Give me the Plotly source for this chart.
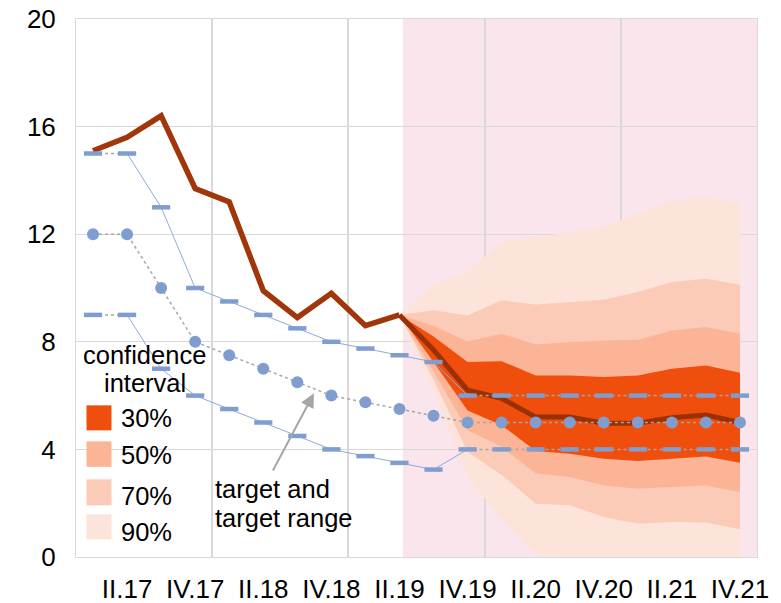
import plotly.graph_objects as go

# ---------------- data ----------------
quarters = ["I.17", "II.17", "III.17", "IV.17", "I.18", "II.18", "III.18", "IV.18",
            "I.19", "II.19", "III.19", "IV.19", "I.20", "II.20", "III.20", "IV.20",
            "I.21", "II.21", "III.21", "IV.21"]

actual = [15.1, 15.6, 16.4, 13.7, 13.2, 9.9, 8.9, 9.8, 8.6, 9.0]

fan_quarters = ["II.19", "III.19", "IV.19", "I.20", "II.20", "III.20", "IV.20",
                "I.21", "II.21", "III.21", "IV.21"]
central = [9.0, 7.7, 6.2, 5.9, 5.2, 5.2, 4.97, 4.97, 5.18, 5.28, 5.0]
upper90 = [9.0, 10.13, 10.59, 11.71, 11.89, 12.08, 12.3, 12.76, 13.25, 13.38, 13.13]
upper70 = [9.0, 9.17, 8.98, 9.54, 9.39, 9.48, 9.56, 9.85, 10.22, 10.34, 10.12]
upper50 = [9.0, 8.6, 8.01, 8.3, 7.9, 7.99, 8.05, 8.08, 8.42, 8.55, 8.3]
upper30 = [9.0, 8.2, 7.25, 7.28, 6.75, 6.75, 6.69, 6.75, 7.0, 7.12, 6.85]
lower30 = [9.0, 7.25, 5.45, 4.9, 3.94, 3.84, 3.65, 3.57, 3.65, 3.74, 3.5]
lower50 = [9.0, 6.9, 4.71, 4.1, 3.1, 2.97, 2.66, 2.54, 2.6, 2.66, 2.42]
lower70 = [9.0, 6.6, 3.9, 3.05, 1.98, 1.92, 1.49, 1.24, 1.3, 1.28, 1.03]
lower90 = [9.0, 6.2, 2.97, 1.4, 0.08, 0.0, 0.0, 0.0, 0.0, 0.0, 0.0]

target_mid = [12.0, 12.0, 10.0, 8.0, 7.5, 7.0, 6.5, 6.0, 5.75, 5.5, 5.25,
              5.0, 5.0, 5.0, 5.0, 5.0, 5.0, 5.0, 5.0, 5.0]
target_up = [15.0, 15.0, 13.0, 10.0, 9.5, 9.0, 8.5, 8.0, 7.75, 7.5, 7.25,
             6.0, 6.0, 6.0, 6.0, 6.0, 6.0, 6.0, 6.0, 6.0]
target_low = [9.0, 9.0, 7.0, 6.0, 5.5, 5.0, 4.5, 4.0, 3.75, 3.5, 3.25,
              4.0, 4.0, 4.0, 4.0, 4.0, 4.0, 4.0, 4.0, 4.0]

band_labels = ["90%", "70%", "50%", "30%"]
band_colors = ["#fde4da", "#fccbb7", "#fbb596", "#ef4e0c"]
bands = [(upper90, lower90), (upper70, lower70), (upper50, lower50), (upper30, lower30)]

tick_labels = ["II.17", "IV.17", "II.18", "IV.18", "II.19",
               "IV.19", "II.20", "IV.20", "II.21", "IV.21"]
y_ticks = [0, 4, 8, 12, 16, 20]

# ---------------- layout helpers ----------------
# the page body has an 8px margin, so the figure starts at (8, 8) in the window
OFF = 8
W, H = 781 - OFF, 603 - OFF
PLOT_L, PLOT_R, PLOT_T, PLOT_B = 75.5, 756.7, 18.5, 556.7   # window pixels
L = PLOT_L - OFF
T = PLOT_T - OFF
R = W - (PLOT_R - OFF)
B = H - (PLOT_B - OFF)
PW, PH = PLOT_R - PLOT_L, PLOT_B - PLOT_T


def fx(px):
    return (px - PLOT_L) / PW


def fy(py):
    return (PLOT_B - py) / PH


pos = {q: i for i, q in enumerate(quarters)}
x_all = [pos[q] for q in quarters]
x_act = x_all[:len(actual)]
x_fan = [pos[q] for q in fan_quarters]

FONT = "Liberation Sans, Arial, sans-serif"
RED = "#a0360a"
BLUE = "#7f9ecf"
THIN_BLUE = "#8eaadb"
GREY = "#a6a6a6"

fig = go.Figure()

# fan bands
for (up, lo), col in zip(bands, band_colors):
    fig.add_trace(go.Scatter(
        x=x_fan + x_fan[::-1], y=up + lo[::-1],
        fill="toself", fillcolor=col, mode="lines",
        line=dict(width=0, color=col), hoverinfo="skip", showlegend=False))

# actual and central projection
fig.add_trace(go.Scatter(x=x_act, y=actual, mode="lines",
                         line=dict(color=RED, width=5.5), showlegend=False))
fig.add_trace(go.Scatter(x=x_fan, y=central, mode="lines",
                         line=dict(color="#9a3104", width=5), showlegend=False))

# target range lines
for series in (target_up, target_low):
    fig.add_trace(go.Scatter(x=x_all[1:12], y=series[1:12], mode="lines",
                             line=dict(color=THIN_BLUE, width=1), showlegend=False))
    fig.add_trace(go.Scatter(x=x_all[0:2], y=series[0:2], mode="lines",
                             line=dict(color=GREY, width=1.5, dash="dot"), showlegend=False))
    fig.add_trace(go.Scatter(x=x_all[11:], y=series[11:], mode="lines",
                             line=dict(color=GREY, width=1.5, dash="dot"), showlegend=False))

# target line (dotted)
fig.add_trace(go.Scatter(x=x_all, y=target_mid, mode="lines",
                         line=dict(color=GREY, width=1.5, dash="dot"), showlegend=False))

# markers
for series in (target_up, target_low):
    fig.add_trace(go.Scatter(x=x_all, y=series, mode="markers",
                             marker=dict(symbol="line-ew", size=13,
                                         line=dict(color=BLUE, width=4.5)),
                             showlegend=False))
fig.add_trace(go.Scatter(x=x_all, y=target_mid, mode="markers",
                         marker=dict(symbol="circle", size=12, color=BLUE),
                         showlegend=False))

shapes = [
    dict(type="rect", xref="x", yref="paper", x0=9.1, x1=19.5, y0=0, y1=1,
         fillcolor="#fbe5ec", line=dict(width=0), layer="below"),
]

# legend squares
sq_rows = [(405, 430), (441, 466.5), (479, 505), (514, 539)]
for (y0, y1), col in zip(sq_rows, band_colors[::-1]):
    shapes.append(dict(type="rect", xref="paper", yref="paper",
                       x0=fx(86), x1=fx(111), y0=fy(y1), y1=fy(y0),
                       fillcolor=col, line=dict(width=0), layer="above"))

annotations = []
txt_font = dict(family=FONT, size=25.5, color="black")
annotations.append(dict(xref="paper", yref="paper", x=fx(144), y=fy(354.5),
                        text="confidence", showarrow=False, xanchor="center",
                        yanchor="middle", font=txt_font))
annotations.append(dict(xref="paper", yref="paper", x=fx(144.5), y=fy(383),
                        text="interval", showarrow=False, xanchor="center",
                        yanchor="middle", font=txt_font))
lab_y = [418, 454.5, 496, 532]
for yy, lab in zip(lab_y, band_labels[::-1]):
    annotations.append(dict(xref="paper", yref="paper", x=fx(119), y=fy(yy),
                            text=lab, showarrow=False, xanchor="left",
                            yanchor="middle", font=txt_font))
annotations.append(dict(xref="paper", yref="paper", x=fx(212.5), y=fy(489),
                        text="target and", showarrow=False, xanchor="left",
                        yanchor="middle", font=txt_font))
annotations.append(dict(xref="paper", yref="paper", x=fx(212.5), y=fy(518),
                        text="target range", showarrow=False, xanchor="left",
                        yanchor="middle", font=txt_font))
# arrow
annotations.append(dict(xref="paper", yref="paper", x=fx(313.5), y=fy(393),
                        ax=271.7 - 313.5, ay=471.7 - 393, text="", showarrow=True,
                        arrowhead=2, arrowsize=1.4, arrowwidth=2, arrowcolor=GREY,
                        standoff=0))

fig.update_layout(
    width=W, height=H,
    margin=dict(l=L, r=R, t=T, b=B, autoexpand=False),
    paper_bgcolor="white", plot_bgcolor="white",
    font=dict(family=FONT, size=26, color="black"),
    showlegend=False,
    shapes=shapes, annotations=annotations,
    xaxis=dict(range=[-0.5, 19.5], tickmode="array", automargin=False,
               tickvals=[pos[q] for q in tick_labels], ticktext=tick_labels,
               showgrid=False, zeroline=False, ticks="",
               showline=True, linecolor="#d9d9d9", linewidth=1, mirror=True,
               tickfont=dict(family=FONT, size=26, color="black"),
               ticklabelstandoff=9, ticklabeloverflow="allow",
               minor=dict(tickmode="array", tickvals=[3.5, 7.5, 11.5, 15.5],
                          showgrid=True, gridcolor="#d9d9d9", gridwidth=1.5,
                          ticks="")),
    yaxis=dict(range=[0, 20], tickmode="array", tickvals=y_ticks, automargin=False,
               showgrid=True, gridcolor="#d9d9d9", gridwidth=1, zeroline=False,
               ticks="", showline=True, linecolor="#d9d9d9", linewidth=1,
               mirror=True, ticklabelstandoff=14, ticklabeloverflow="allow",
               tickfont=dict(family=FONT, size=26, color="black")),
)

fig.write_html("out.html")
